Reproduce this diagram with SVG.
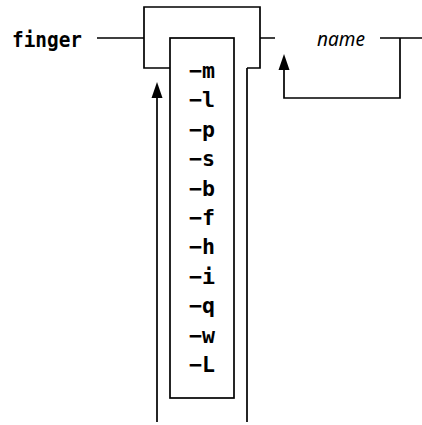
<svg xmlns="http://www.w3.org/2000/svg" width="422" height="425" viewBox="0 0 422 425">
<defs>
<style>
.ln{fill:none;stroke:#000;stroke-width:1.7}
.kw{font-family:"DejaVu Sans Mono","Liberation Mono",monospace;font-weight:bold;font-size:22px;fill:#000}
.op{font-family:"DejaVu Sans Mono","Liberation Mono",monospace;font-weight:bold;font-size:21px;fill:#000}
.var{font-family:"Noto Sans","Liberation Sans",sans-serif;font-style:italic;font-size:20px;fill:#000}
.ah{fill:#000}
</style>
</defs>
<rect width="422" height="425" fill="#fff"/>
<g id="connectors">
<path class="ln" d="M97 38H144M144 38V7H260V68H247M144 38V68H170"/>
<path class="ln" d="M157 98V422M247 68V422"/>
<polygon class="ah" points="157,82 151.5,98 162.5,98"/>
<path class="ln" d="M260 38H275M380 38H422M400 38V98H284V70"/>
<polygon class="ah" points="284,54 278.5,70 289.5,70"/>
</g>
<g id="finger">
<text class="kw" x="12" y="47" textLength="70" lengthAdjust="spacingAndGlyphs">finger</text>
</g>
<g id="options">
<rect class="ln" x="170" y="38" width="64" height="360"/>
<text class="op" x="189" y="78" textLength="26" lengthAdjust="spacingAndGlyphs">−m</text>
<text class="op" x="189" y="107.4" textLength="26" lengthAdjust="spacingAndGlyphs">−l</text>
<text class="op" x="189" y="136.8" textLength="26" lengthAdjust="spacingAndGlyphs">−p</text>
<text class="op" x="189" y="166.2" textLength="26" lengthAdjust="spacingAndGlyphs">−s</text>
<text class="op" x="189" y="195.6" textLength="26" lengthAdjust="spacingAndGlyphs">−b</text>
<text class="op" x="189" y="225" textLength="26" lengthAdjust="spacingAndGlyphs">−f</text>
<text class="op" x="189" y="254.4" textLength="26" lengthAdjust="spacingAndGlyphs">−h</text>
<text class="op" x="189" y="283.8" textLength="26" lengthAdjust="spacingAndGlyphs">−i</text>
<text class="op" x="189" y="313.2" textLength="26" lengthAdjust="spacingAndGlyphs">−q</text>
<text class="op" x="189" y="342.6" textLength="26" lengthAdjust="spacingAndGlyphs">−w</text>
<text class="op" x="189" y="372" textLength="26" lengthAdjust="spacingAndGlyphs">−L</text>
</g>
<g id="name">
<text class="var" x="317" y="46" textLength="48" lengthAdjust="spacingAndGlyphs">name</text>
</g>
</svg>
